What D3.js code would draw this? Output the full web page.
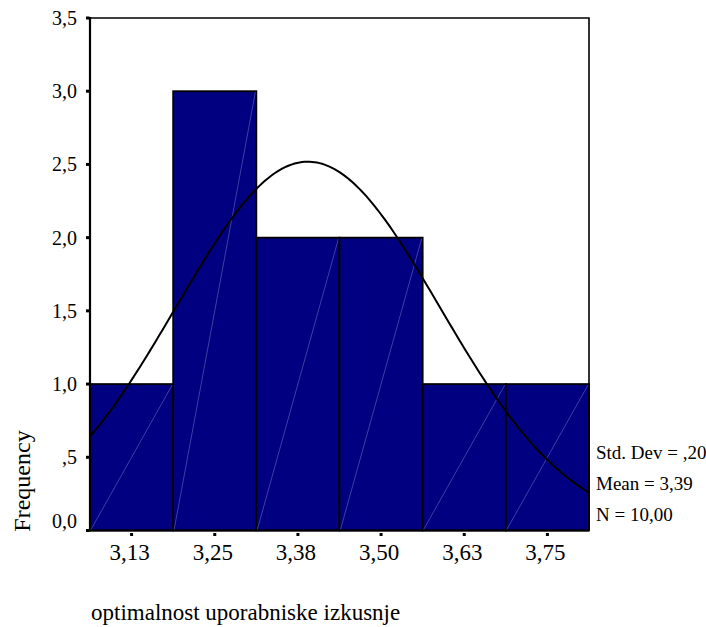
<!DOCTYPE html>
<html>
<head>
<meta charset="utf-8">
<script src="https://cdn.jsdelivr.net/npm/d3@7"></script>
<style>
  html, body { margin: 0; padding: 0; background: #fff; }
  svg { display: block; }
  text { font-family: "Liberation Serif", "Times New Roman", serif; fill: #000; }
</style>
</head>
<body>
<svg id="chart" width="706" height="627"></svg>
<script>
// Histogram bins (centres), frequencies and axis labels
const binCenters = [3.125, 3.25, 3.375, 3.5, 3.625, 3.75];
const binCounts = [1, 3, 2, 2, 1, 1];
const binWidth = 0.125;
const xTickLabels = ["3,13", "3,25", "3,38", "3,50", "3,63", "3,75"];
const yTicks = [0, 0.5, 1, 1.5, 2, 2.5, 3, 3.5];
const yTickLabels = ["0,0", ",5", "1,0", "1,5", "2,0", "2,5", "3,0", "3,5"];

// Summary statistics of the sample
const stdDev = 0.198;
const mean = 3.39;
const nCases = 10;

const xLabel = "optimalnost uporabniske izkusnje";
const yLabel = "Frequency";

const svg = d3.select("#chart");
const plotLeft = 90, plotRight = 589, plotTop = 18, plotBottom = 530.5;

const x = d3.scaleLinear()
  .domain([binCenters[0] - binWidth / 2, binCenters[binCenters.length - 1] + binWidth / 2])
  .range([plotLeft, plotRight]);
const y = d3.scaleLinear().domain([0, 3.5]).range([plotBottom, plotTop]);

const comma = s => s.replace(".", ",");

// Frame (top and right edges)
svg.append("path")
  .attr("d", `M${plotLeft},${plotTop}H${plotRight}V${plotBottom}`)
  .attr("fill", "none").attr("stroke", "#000").attr("stroke-width", 1.6);

// Bars
const bars = svg.append("g");
binCenters.forEach((c, i) => {
  const x0 = x(c - binWidth / 2), x1 = x(c + binWidth / 2);
  const y1 = y(binCounts[i]);
  bars.append("rect")
    .attr("x", x0).attr("y", y1)
    .attr("width", x1 - x0).attr("height", y(0) - y1)
    .attr("fill", "#000080")
    .attr("stroke", "#000").attr("stroke-width", 1.8);
  // faint diagonal seam across each bar
  bars.append("line")
    .attr("x1", x0 + 1).attr("y1", y(0) - 1)
    .attr("x2", x1 - 1).attr("y2", y1 + 1)
    .attr("stroke", "#8c8cd2").attr("stroke-width", 0.6).attr("opacity", 0.75);
});

// Fitted normal curve scaled to frequencies
const scaleFactor = nCases * binWidth / (stdDev * Math.sqrt(2 * Math.PI));
const curvePts = d3.range(0, 201).map(k => {
  const [a, b] = x.domain();
  const v = a + (b - a) * k / 200;
  const z = (v - mean) / stdDev;
  return [v, scaleFactor * Math.exp(-0.5 * z * z)];
});
svg.append("path")
  .datum(curvePts)
  .attr("d", d3.line().x(d => x(d[0])).y(d => y(d[1])))
  .attr("fill", "none").attr("stroke", "#000").attr("stroke-width", 2);

// Axis lines
svg.append("line").attr("x1", plotLeft).attr("x2", plotLeft).attr("y1", plotTop - 1).attr("y2", plotBottom + 1)
  .attr("stroke", "#000").attr("stroke-width", 2.2);
svg.append("line").attr("x1", plotLeft).attr("x2", plotRight).attr("y1", plotBottom).attr("y2", plotBottom)
  .attr("stroke", "#000").attr("stroke-width", 2.2);

// Y ticks: small squares with labels
yTicks.forEach((t, i) => {
  svg.append("rect").attr("x", plotLeft - 4).attr("y", y(t) - 1.5)
    .attr("width", 3.5).attr("height", 3).attr("fill", "#000");
  svg.append("text")
    .attr("x", 77).attr("y", y(t) + 7 - (t === 0 ? 10 : 0))
    .attr("text-anchor", "end").attr("font-size", 20)
    .text(yTickLabels[i]);
});

// X ticks: small squares below the axis with labels
binCenters.forEach((c, i) => {
  svg.append("rect").attr("x", x(c) - 1.5).attr("y", plotBottom + 2.5)
    .attr("width", 3).attr("height", 3).attr("fill", "#000");
  svg.append("text")
    .attr("x", x(c) - 2).attr("y", 560)
    .attr("text-anchor", "middle").attr("font-size", 23)
    .text(xTickLabels[i]);
});

// Axis titles
svg.append("text")
  .attr("transform", "translate(30,481) rotate(-90)")
  .attr("text-anchor", "middle").attr("font-size", 24)
  .text(yLabel);
svg.append("text")
  .attr("x", 91).attr("y", 620)
  .attr("font-size", 23)
  .text(xLabel);

// Summary statistics
const stats = [
  "Std. Dev = " + comma(d3.format(".2f")(stdDev)).replace(/^0/, ""),
  "Mean = " + comma(d3.format(".2f")(mean)),
  "N = " + comma(d3.format(".2f")(nCases))
];
stats.forEach((s, i) => {
  svg.append("text")
    .attr("x", 596).attr("y", 459 + i * 31)
    .attr("font-size", 19)
    .text(s);
});
</script>
</body>
</html>
